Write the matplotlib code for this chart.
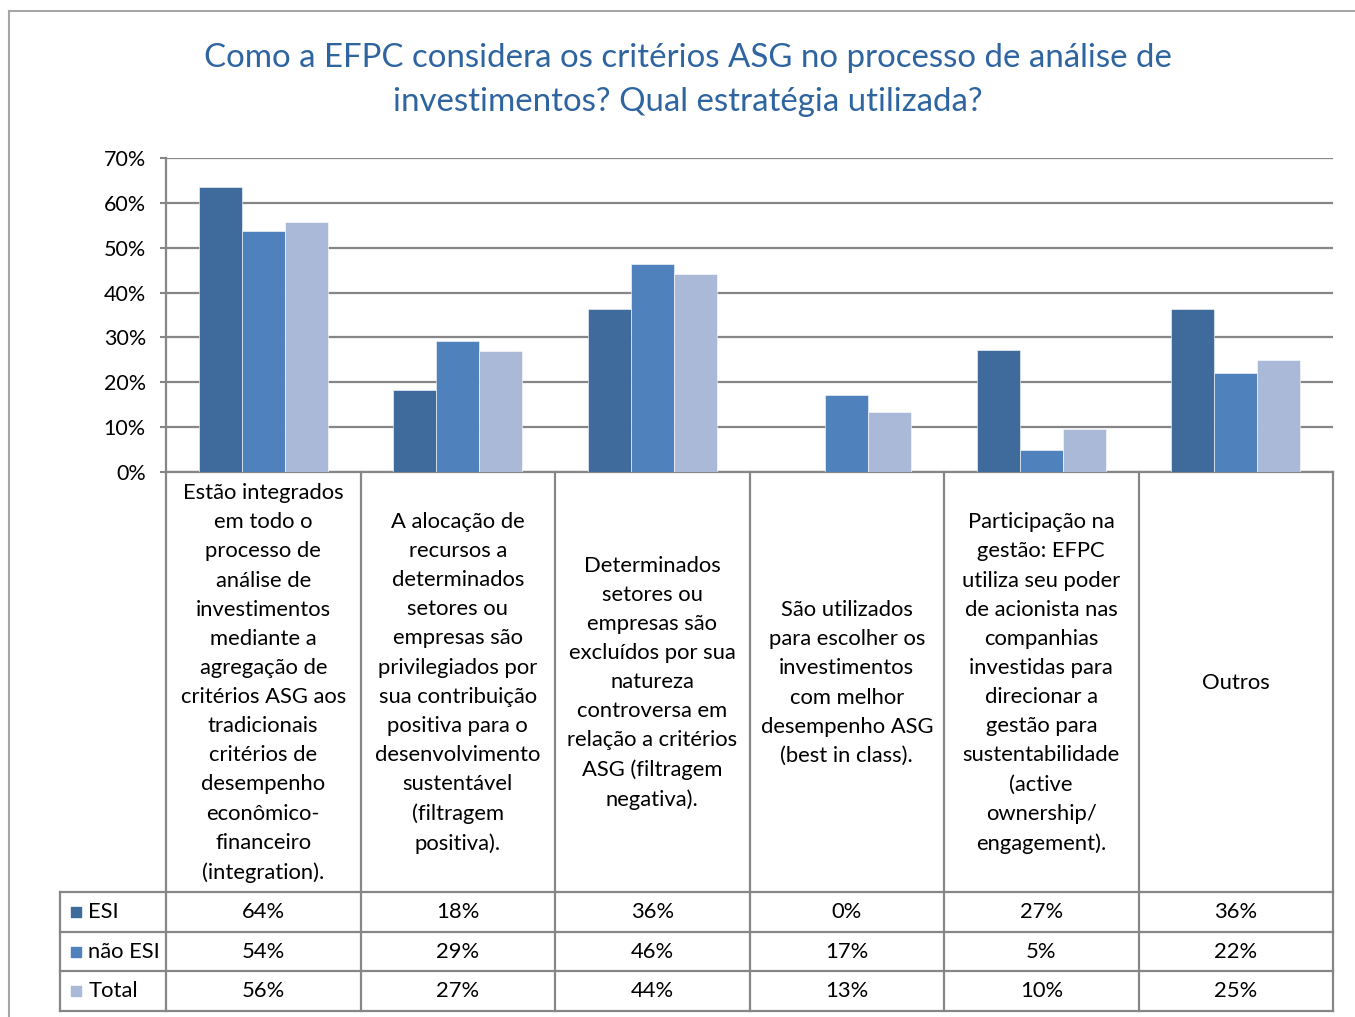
import matplotlib.pyplot as plt
from matplotlib.lines import Line2D
import numpy as np

plt.rcParams['font.family'] = ['Lato', 'DejaVu Sans']

categories = [
    "Estão integrados\nem todo o\nprocesso de\nanálise de\ninvestimentos\nmediante a\nagregação de\ncritérios ASG aos\ntradicionais\ncritérios de\ndesempenho\neconômico-\nfinanceiro\n(integration).",
    "A alocação de\nrecursos a\ndeterminados\nsetores ou\nempresas são\nprivilegiados por\nsua contribuição\npositiva para o\ndesenvolvimento\nsustentável\n(filtragem\npositiva).",
    "Determinados\nsetores ou\nempresas são\nexcluídos por sua\nnatureza\ncontroversa em\nrelação a critérios\nASG (filtragem\nnegativa).",
    "São utilizados\npara escolher os\ninvestimentos\ncom melhor\ndesempenho ASG\n(best in class).",
    "Participação na\ngestão: EFPC\nutiliza seu poder\nde acionista nas\ncompanhias\ninvestidas para\ndirecionar a\ngestão para\nsustentabilidade\n(active\nownership/\nengagement).",
    "Outros",
]
series_names = ["ESI", "não ESI", "Total"]
esi = [63.6, 18.2, 36.4, 0.0, 27.3, 36.4]
nao_esi = [53.7, 29.3, 46.3, 17.1, 4.9, 22.0]
total = [55.8, 26.9, 44.2, 13.4, 9.6, 25.0]
yticks = [0, 10, 20, 30, 40, 50, 60, 70]
title = "Como a EFPC considera os critérios ASG no processo de análise de\ninvestimentos? Qual estratégia utilizada?"

colors = ["#3F6A9C", "#4F81BD", "#AAB9D7"]
grid_c = "#868686"
W, H = 1355, 1017

fig = plt.figure(figsize=(W / 100, H / 100), dpi=100)

# outer chart border (top and left visible)
fig.add_artist(Line2D([9 / W, 9 / W], [0, 1 - 11 / H], color="#A6A6A6", lw=1.5))
fig.add_artist(Line2D([9 / W, 1], [1 - 11 / H, 1 - 11 / H], color="#A6A6A6", lw=1.5))

fig.text(688 / W, 1 - 80 / H, title, ha="center", va="center", fontsize=23.8,
         color="#2E64A0", linespacing=1.55)

# bar plot area
left, right, top, bottom = 166, 1333, 158, 472
ax = fig.add_axes([left / W, 1 - bottom / H, (right - left) / W, (bottom - top) / H])
n = len(categories)
x = np.arange(n) + 0.5
bw = 0.221
for k, vals in enumerate([esi, nao_esi, total]):
    ax.bar(x + (k - 1) * bw, vals, bw, color=colors[k], zorder=3,
           edgecolor="white", linewidth=0.4)
ax.set_xlim(0, n)
ax.set_ylim(0, 70)
ax.set_yticks(yticks)
ax.set_yticklabels([f"{t}%" for t in yticks], fontsize=15.5)
ax.set_xticks([])
ax.yaxis.grid(True, color=grid_c, lw=1.6, zorder=0)
ax.tick_params(axis="y", length=4.5, width=1.5, color=grid_c, pad=10)
for s in ["top", "right"]:
    ax.spines[s].set_visible(False)
ax.spines["left"].set_color(grid_c)
ax.spines["left"].set_linewidth(1.6)
ax.spines["bottom"].set_color(grid_c)
ax.spines["bottom"].set_linewidth(1.6)

# data table below the chart
tleft, tbottom = 60, 1011
lab_w = (left - tleft) / ((right - left) / n)
tax = fig.add_axes([tleft / W, 1 - tbottom / H, (right - tleft) / W, (tbottom - bottom) / H])
tax.set_xlim(-lab_w, n)
tax.set_ylim(tbottom, bottom)
tax.axis("off")
row_edges = [892, 932, 971, 1011]
for i in range(n + 1):
    tax.plot([i, i], [bottom, tbottom], color=grid_c, lw=1.6, clip_on=False)
tax.plot([-lab_w, -lab_w], [row_edges[0], tbottom], color=grid_c, lw=1.6, clip_on=False)
for y in row_edges:
    tax.plot([-lab_w, n], [y, y], color=grid_c, lw=1.6, clip_on=False)

for i, c in enumerate(categories):
    tax.text(i + 0.5, (bottom + row_edges[0]) / 2 + 1, c, ha="center", va="center",
             fontsize=15.8, linespacing=1.57)

for r, (name, vals) in enumerate(zip(series_names, [esi, nao_esi, total])):
    yc = (row_edges[r] + row_edges[r + 1]) / 2
    tax.scatter([-lab_w + 0.08], [yc], marker="s", s=60, color=colors[r], clip_on=False)
    tax.text(-lab_w + 0.145, yc, name, ha="left", va="center", fontsize=15.8)
    for i, v in enumerate(vals):
        tax.text(i + 0.5, yc, f"{round(v):.0f}%", ha="center", va="center", fontsize=15.8)

fig.savefig("out.png", dpi=100)
